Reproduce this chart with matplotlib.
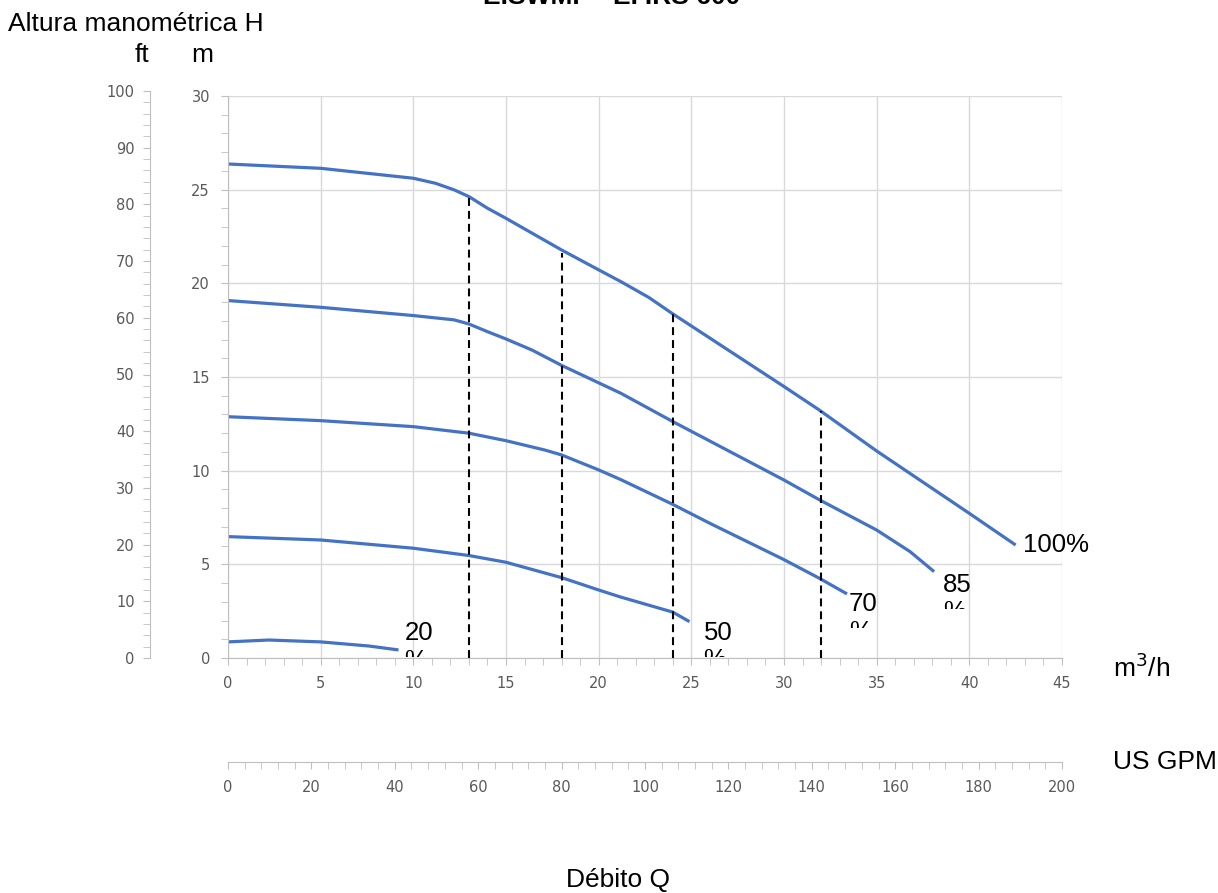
import matplotlib
matplotlib.use("Agg")
import matplotlib.pyplot as plt
from matplotlib.patches import Rectangle
from matplotlib.transforms import IdentityTransform
from matplotlib.ticker import MultipleLocator

# Pump curves: flow Q (m3/h) vs head H (m), one list pair per speed
q_100 = [0, 5, 10, 11.2, 12.2, 13, 14, 15, 18, 20, 21.2, 22.7, 24, 30, 31.9, 35, 40, 42.5]
h_100 = [26.37, 26.14, 25.61, 25.34, 24.99, 24.63, 24.01, 23.47, 21.78, 20.72, 20.09, 19.25, 18.37,
         14.49, 13.24, 11.05, 7.72, 6.03]

q_85 = [0, 5, 10, 12.2, 13, 14, 15, 16.4, 18, 21.2, 24, 30, 31.9, 35, 36.8, 38.1]
h_85 = [19.08, 18.72, 18.28, 18.05, 17.83, 17.42, 17.03, 16.44, 15.62, 14.13, 12.62, 9.5, 8.45,
        6.83, 5.68, 4.61]

q_70 = [0, 5, 10, 13, 15, 17.1, 18, 20, 21.2, 24, 26, 30, 31.9, 33.4]
h_70 = [12.88, 12.67, 12.35, 12.0, 11.6, 11.1, 10.84, 10.04, 9.52, 8.2, 7.19, 5.25, 4.26, 3.42]

q_50 = [0, 5, 10, 13, 15, 18, 20, 21.2, 24, 24.9]
h_50 = [6.48, 6.3, 5.86, 5.47, 5.11, 4.29, 3.63, 3.25, 2.45, 1.94]

q_20 = [0, 2.2, 5, 7.6, 9.2]
h_20 = [0.86, 0.96, 0.86, 0.64, 0.43]

curves = [(q_20, h_20), (q_50, h_50), (q_70, h_70), (q_85, h_85), (q_100, h_100)]
curve_labels = ["20\n%", "50\n%", "70\n%", "85\n%", "100%"]

# vertical dashed operating lines (flow, head at top)
dash_q = [13, 18, 24, 32]
dash_h = [24.6, 21.6, 18.35, 13.2]

fig = plt.figure(figsize=(12.18, 8.93), dpi=100)
W, H = 1218, 893

tick_color = "#595959"
axis_color = "#bfbfbf"
grid_color = "#d9d9d9"
blue = "#4472C4"
plt.rcParams["font.family"] = ["DejaVu Sans"]

# main axes (m3/h vs m)
ax = fig.add_axes([228 / W, (H - 658) / H, 834 / W, 562 / H])
ax.set_xlim(0, 45)
ax.set_ylim(0, 30)
ax.xaxis.set_major_locator(MultipleLocator(5))
ax.xaxis.set_minor_locator(MultipleLocator(1))
ax.yaxis.set_major_locator(MultipleLocator(5))
ax.yaxis.set_minor_locator(MultipleLocator(1))
ax.grid(True, color=grid_color, linewidth=1)
ax.set_axisbelow(True)
for s in ["top", "right"]:
    ax.spines[s].set_visible(False)
for s in ["left", "bottom"]:
    ax.spines[s].set_color(axis_color)
ax.tick_params(which="both", direction="out", length=5, color=axis_color,
               labelcolor=tick_color, labelsize=10.5)
ax.tick_params(axis="x", which="major", pad=8)
ax.tick_params(axis="y", which="major", pad=8)

for q, h in curves:
    ax.plot(q, h, color=blue, linewidth=2.3, solid_capstyle="butt",
            solid_joinstyle="round")

for q, h in zip(dash_q, dash_h):
    ax.plot([q, q], [0, h], color="black", linestyle=(0, (3.8, 2.4)), linewidth=1.5)

# curve end labels (the "%" line is cut off as in the source)
offsets = [(6, 29), (14, 1), (2, 2), (9, -1), (7, 12)]
fig.canvas.draw()
for (q, h), lbl, (dx, dy) in zip(curves, curve_labels, offsets):
    t = ax.annotate(lbl, xy=(q[-1], h[-1]), xytext=(dx, dy),
                    textcoords="offset pixels", ha="left", va="top",
                    fontsize=18.5, family="Liberation Sans", linespacing=1.2,
                    annotation_clip=False)
    if "\n" in lbl:
        px, py = ax.transData.transform((q[-1], h[-1]))
        top = py + dy
        clip = Rectangle((px + dx - 5, top - 36), 80, 46, transform=IdentityTransform())
        t.set_clip_path(clip)
        t.set_clip_on(True)

# left ft axis
ax_ft = fig.add_axes([150 / W, (H - 658) / H, 0.0001, 567 / H])
ax_ft.set_ylim(0, 100)
ax_ft.yaxis.set_major_locator(MultipleLocator(10))
ax_ft.yaxis.set_minor_locator(MultipleLocator(2))
ax_ft.set_xticks([])
ax_ft.patch.set_visible(False)
for s in ["top", "right", "bottom"]:
    ax_ft.spines[s].set_visible(False)
ax_ft.spines["left"].set_color(axis_color)
ax_ft.tick_params(which="both", direction="out", length=5, color=axis_color,
                  labelcolor=tick_color, labelsize=10.5, pad=6)

# bottom US GPM axis
ax_gpm = fig.add_axes([228 / W, (H - 762) / H, 834 / W, 0.0001])
ax_gpm.set_xlim(0, 200)
ax_gpm.xaxis.set_major_locator(MultipleLocator(20))
ax_gpm.xaxis.set_minor_locator(MultipleLocator(4))
ax_gpm.set_yticks([])
ax_gpm.patch.set_visible(False)
for s in ["top", "right", "left"]:
    ax_gpm.spines[s].set_visible(False)
ax_gpm.spines["bottom"].set_color(axis_color)
ax_gpm.tick_params(which="both", direction="out", length=5, color=axis_color,
                   labelcolor=tick_color, labelsize=10.5, pad=8)

# titles and units
lab = dict(fontsize=19, family="Liberation Sans", color="black")
fig.text(612 / W, 1 - 4 / H, "E.SWMP - EP.RS 600", ha="center", va="baseline",
         fontweight="bold", **lab)
fig.text(8 / W, 1 - 24 / H, "Altura manométrica H", ha="left", va="center", **lab)
fig.text(142 / W, 1 - 55 / H, "ft", ha="center", va="center", **lab)
fig.text(202 / W, 1 - 55 / H, "m", ha="center", va="center", **lab)
fig.text(1113 / W, 1 - 668 / H, "m$^3$/h", ha="left", va="center", **lab)
fig.text(1113 / W, 1 - 762 / H, "US GPM", ha="left", va="center", **lab)
fig.text(618 / W, 1 - 880 / H, "Débito Q", ha="center", va="center", **lab)

fig.savefig("out.png", dpi=100)
